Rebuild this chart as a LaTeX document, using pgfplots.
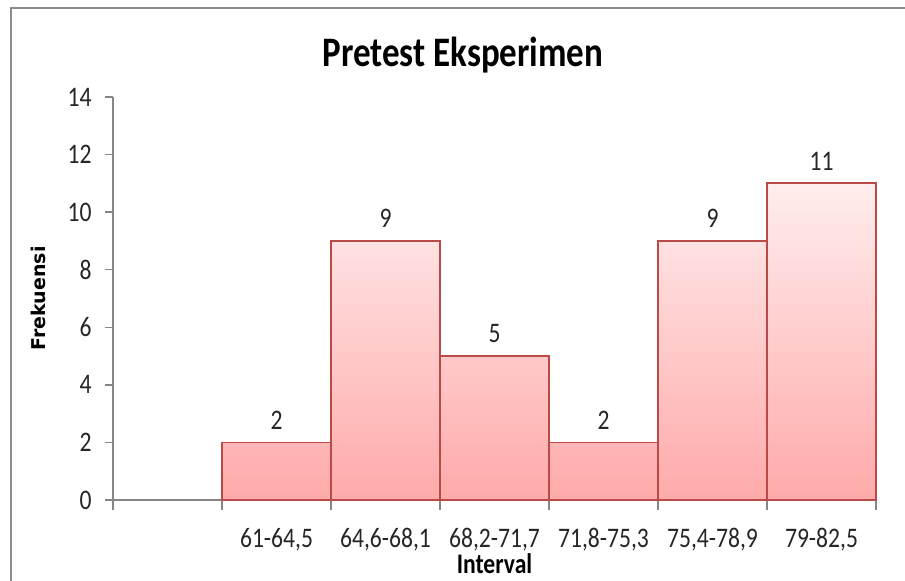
\documentclass[border=0pt]{standalone}
\usepackage{pgfplots}
\usepackage{pgfplotstable}
\pgfplotsset{compat=1.18}
\usepackage{fontspec}
\setmainfont{Carlito}
\newfontfamily\dejavu{DejaVu Sans}
\definecolor{barborder}{HTML}{B94A48}
\definecolor{bartop}{HTML}{FFEDED}
\definecolor{barbot}{HTML}{FFAAAA}
\definecolor{axgray}{HTML}{868686}
\definecolor{framegray}{HTML}{8C8C8C}
\definecolor{txt}{HTML}{262626}
\newcommand{\st}[1]{\scalebox{1}[1.2]{#1}}
\pgfplotstableread{
x y
1.5 2
2.5 9
3.5 5
4.5 2
5.5 9
6.5 11
}\datatable
\begin{document}
\begin{tikzpicture}
\useasboundingbox (0pt,0pt) rectangle (905pt,-581pt);
\draw[framegray, line width=2.5pt] (11pt,-600pt) -- (11pt,-8pt) -- (920pt,-8pt);
\begin{axis}[
  at={(113pt,-500pt)}, anchor=south west,
  scale only axis, width=763pt, height=403pt,
  xmin=0, xmax=7, ymin=0, ymax=14,
  axis x line*=bottom, axis y line*=left,
  axis line style={axgray, line width=1.3pt},
  tick align=outside,
  tick style={axgray, line width=1.3pt},
  major tick length=8pt, minor tick length=10pt,
  xtick={1.5,2.5,3.5,4.5,5.5,6.5},
  xticklabels={{\st{61-64,5}},{\st{64,6-68,1}},{\st{68,2-71,7}},{\st{71,8-75,3}},{\st{75,4-78,9}},{\st{79-82,5}}},
  minor xtick={0,1,2,3,4,5,6,7},
  major x tick style={draw=none},
  ytick={0,2,...,14},
  yticklabel={\st{\pgfmathprintnumber{\tick}}},
  /pgf/number format/assume math mode=true,
  ticklabel style={font=\fontsize{23.6}{28}\selectfont, text=txt},
  xticklabel style={yshift=-19pt, inner sep=1pt},
  yticklabel style={xshift=-10pt},
  title={\st{Pretest Eksperimen}},
  title style={at={(axis description cs:0.4587,1.062)}, anchor=base, font=\bfseries\fontsize{35}{40}\selectfont},
  xlabel={\st{Interval}},
  xlabel style={at={(axis description cs:0.5,-0.183)}, anchor=base, inner sep=1pt, font=\bfseries\fontsize{23.6}{28}\selectfont},
  ylabel={Frekuensi},
  ylabel style={at={(axis description cs:-0.0891,0.5)}, anchor=base, font=\dejavu\bfseries\fontsize{19}{22}\selectfont},
  nodes near coords={\st{\pgfmathprintnumber{\pgfplotspointmeta}}},
  every node near coord/.append style={font=\fontsize{23.6}{28}\selectfont, text=txt, yshift=9pt},
  clip=false,
]
\addplot[ybar, bar width=1, draw=barborder, line width=1.8pt, top color=bartop, bottom color=barbot] table[x=x,y=y]{\datatable};
\end{axis}
\end{tikzpicture}
\end{document}
